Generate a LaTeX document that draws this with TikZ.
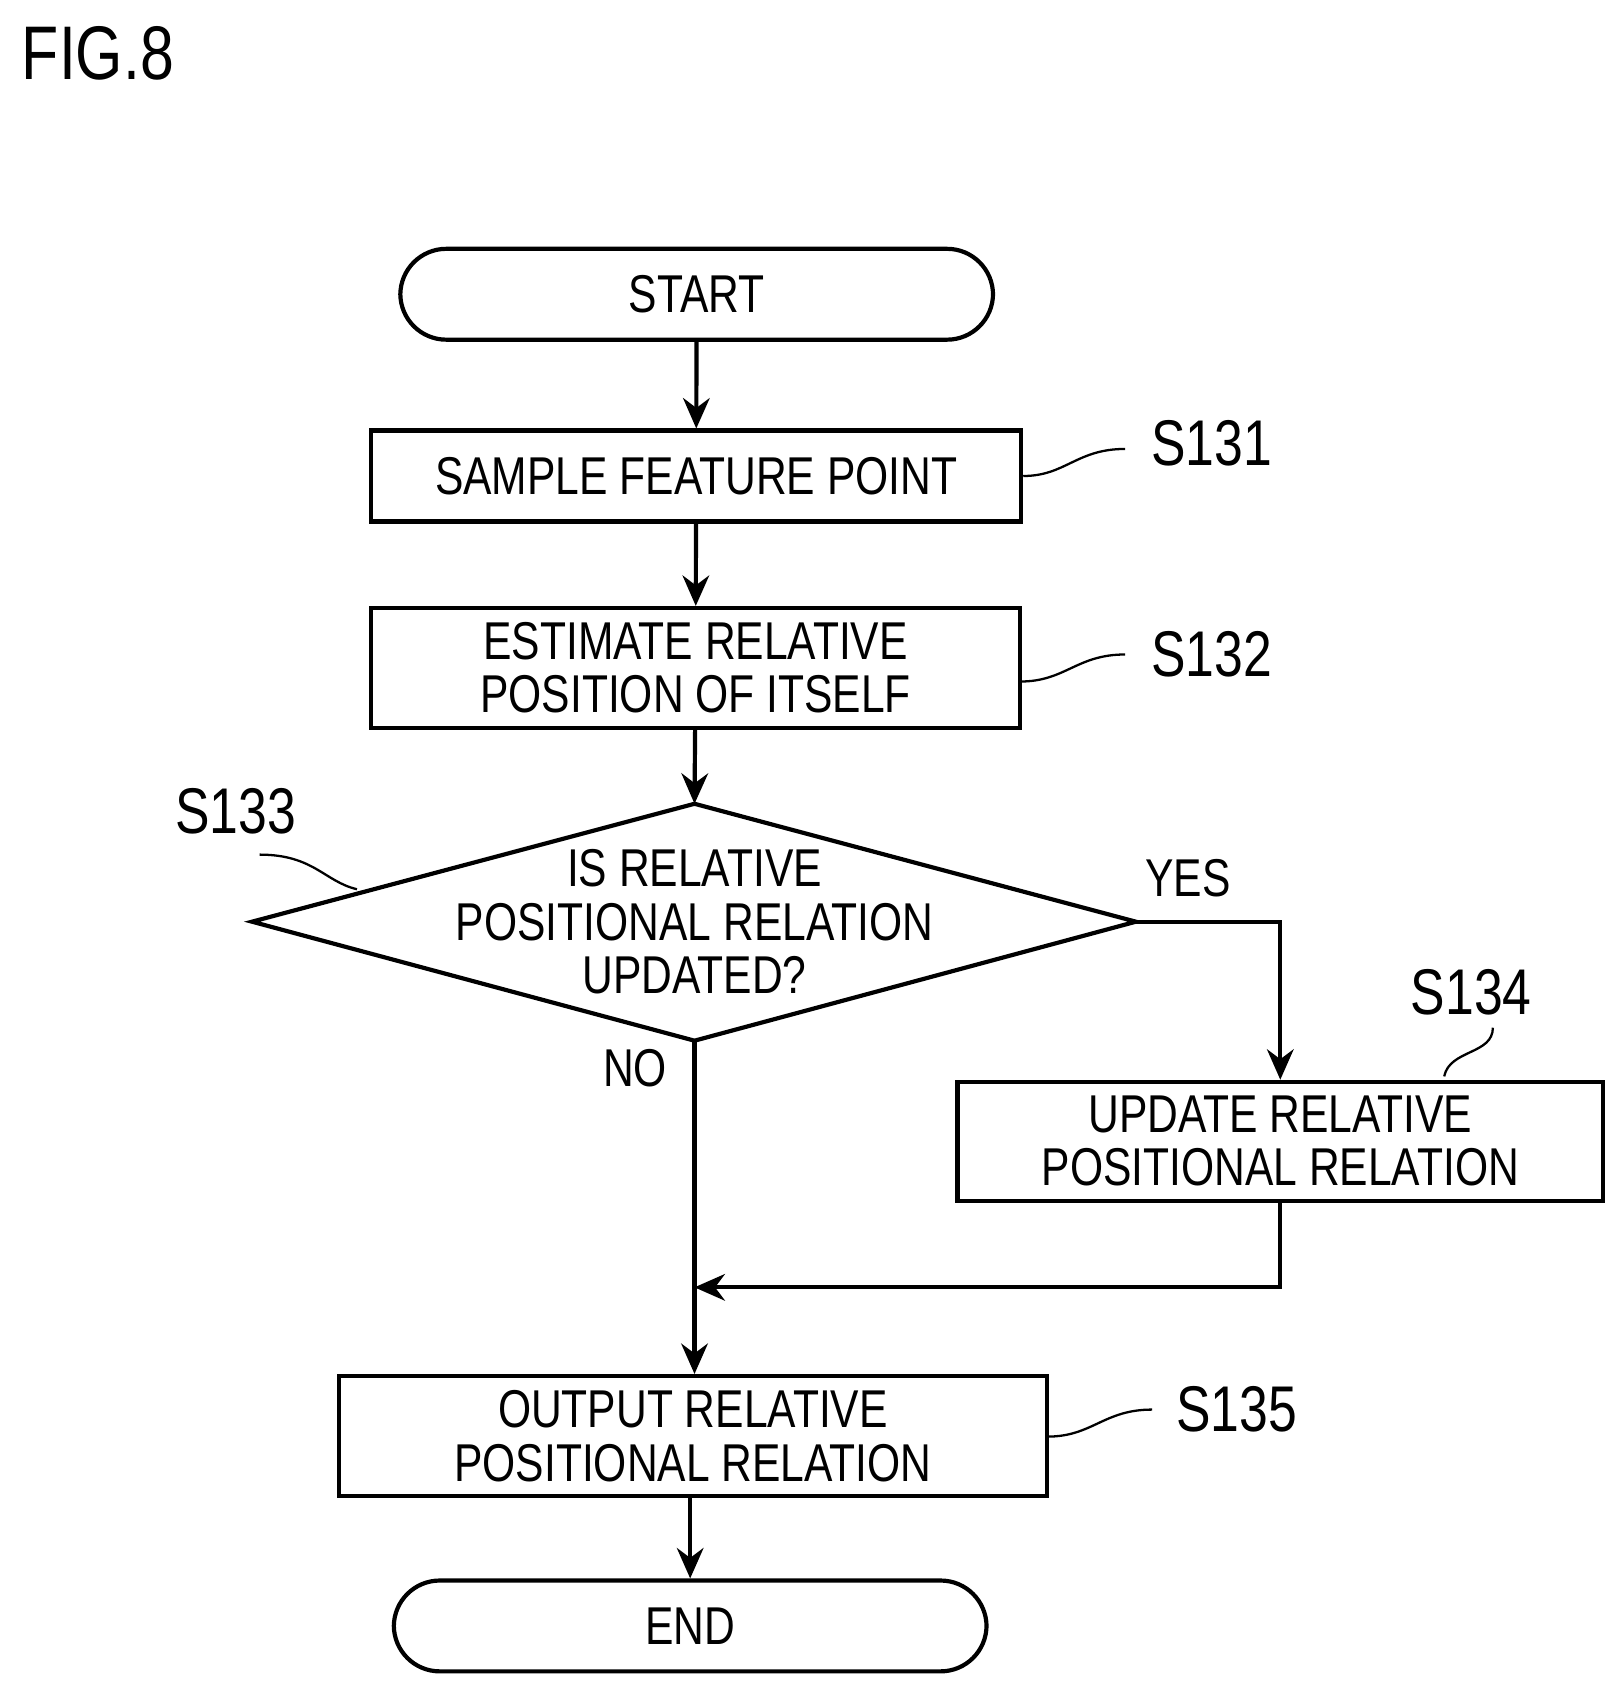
\documentclass[tikz,border=0pt]{standalone}
\usepackage{fontspec}
\setmainfont{Liberation Sans}[FakeStretch=0.8]
\usetikzlibrary{shapes.geometric,arrows.meta}
\begin{document}
\begin{tikzpicture}[x=0.02cm,y=-0.02cm,
  every node/.style={font=\fontsize{28}{32}\selectfont},
  box/.style={draw,line width=2.2pt,minimum width=#1,inner sep=0pt,align=center},
  term/.style={draw,line width=2.2pt,rounded corners=0.85cm,minimum width=10.96cm,minimum height=1.68cm},
  line/.style={line width=2.2pt},
  arr/.style={line/.try,line width=2.2pt,-{Stealth[length=16pt,width=14pt]}},
  lbl/.style={font=\fontsize{34}{38}\selectfont}]
\useasboundingbox (0,0) rectangle (1500,1565);
\node[anchor=north west,font=\fontsize{40}{44}\selectfont] (fig) at (14,18) {FIG.8};
\node[term] (start) at (644,272) {START};
\node[box=12.02cm,minimum height=1.68cm] (s131) at (643.5,440) {SAMPLE FEATURE POINT};
\node[box=12.0cm,minimum height=2.22cm] (s132) at (643,617.5) {ESTIMATE RELATIVE\\[-4pt]POSITION OF ITSELF};
\coordinate (dc) at (642,852);
\coordinate (dl) at (233,852); \coordinate (dr) at (1050,852);
\coordinate (dt) at (642,743); \coordinate (db) at (642,962);
\draw[line,line join=miter] (dl) -- (dt) -- (dr) -- (db) -- cycle;
\node[align=center] (q) at (dc) {IS RELATIVE\\[-4pt]POSITIONAL RELATION\\[-4pt]UPDATED?};
\node[box=11.94cm,minimum height=2.2cm] (s134) at (1183.5,1055) {UPDATE RELATIVE\\[-4pt]POSITIONAL RELATION};
\node[box=13.1cm,minimum height=2.22cm] (s135) at (640.5,1327.5) {OUTPUT RELATIVE\\[-4pt]POSITIONAL RELATION};
\node[term] (end) at (638,1503) {END};
\node (yes) at (1098,812) {YES};
\node (no) at (587,987) {NO};
\node[lbl] (l131) at (1120,410) {S131};
\node[lbl] (l132) at (1120,605) {S132};
\node[lbl] (l133) at (218,750) {S133};
\node[lbl] (l134) at (1360,917) {S134};
\node[lbl] (l135) at (1143,1303) {S135};
\draw[arr] (start) -- (s131);
\draw[arr] (s131) -- (s132);
\draw[arr] (s132) -- (dt);
\draw[arr] (dr) -| (s134.north);
\draw[arr] (db) -- (s135.north -| db);
\coordinate (j) at (642,1190);
\draw[arr] (s134.south) |- (j);
\draw[arr] (s135.south -| end) -- (end);
\draw[line width=1.2pt] (s131.east) .. controls (985,440) and (995,415) .. (1040,415);
\draw[line width=1.2pt] (943,630) .. controls (985,630) and (995,605) .. (1040,605);
\draw[line width=1.2pt] (240,790) .. controls (290,790) and (300,815) .. (330,822);
\draw[line width=1.2pt] (1335,995) .. controls (1340,970) and (1380,975) .. (1380,950);
\draw[line width=1.2pt] (968,1328) .. controls (1010,1328) and (1020,1303) .. (1065,1303);
\end{tikzpicture}
\end{document}
